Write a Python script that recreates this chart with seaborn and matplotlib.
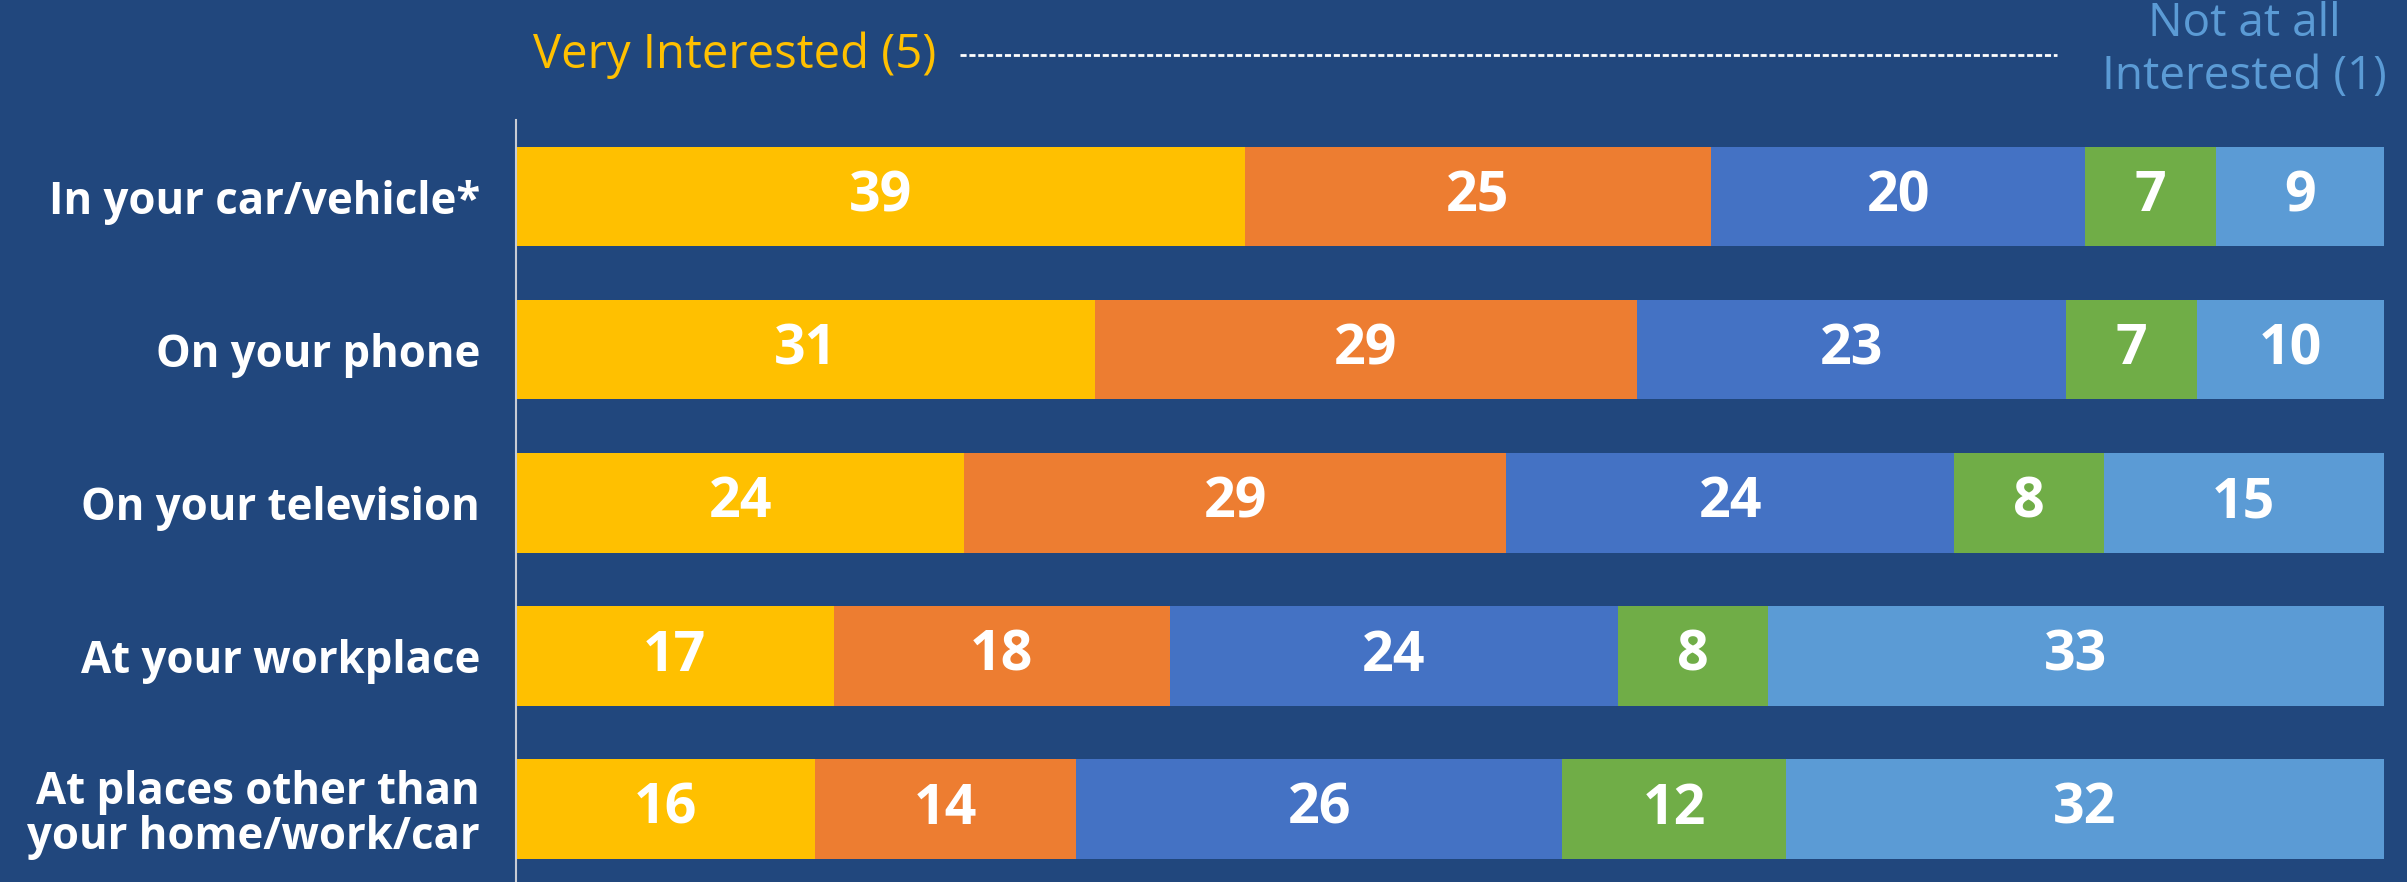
import numpy as np
import pandas as pd
import seaborn as sns
import matplotlib.pyplot as plt
from matplotlib.lines import Line2D

categories = ['In your car/vehicle*', 'On your phone', 'On your television',
              'At your workplace', 'At places other than\nyour home/work/car']
levels = ['5', '4', '3', '2', '1']
very = [39, 31, 24, 17, 16]
four = [25, 29, 29, 18, 14]
three = [20, 23, 24, 24, 26]
two = [7, 7, 8, 8, 12]
notatall = [9, 10, 15, 33, 32]

colors = ['#FFC000', '#ED7D31', '#4472C4', '#70AD47', '#5B9BD5']
bg = '#21477D'

sns.set_theme(style='white')
plt.rcParams['font.family'] = ['Open Sans', 'DejaVu Sans']

df = pd.DataFrame({'cat': categories, '5': very, '4': four, '3': three,
                   '2': two, '1': notatall})
cum = df[levels].cumsum(axis=1)

fig = plt.figure(figsize=(24.07, 8.82), dpi=100, facecolor=bg)
ax = fig.add_axes([0.2144, 0.0, 0.776, 0.864])
ax.set_facecolor(bg)

# stacked bars: draw cumulative totals from the widest down
for lev, col in reversed(list(zip(levels, colors))):
    sns.barplot(x=cum[lev], y=df['cat'], color=col, width=0.65,
                orient='h', ax=ax, saturation=1, linewidth=0)

# value labels in the middle of each segment
for i in range(len(categories)):
    for lev in levels:
        v = df.loc[i, lev]
        ax.text(cum.loc[i, lev] - v / 2, i, str(v), ha='center', va='center',
                color='white', fontsize=40, fontweight='bold')

ax.set_xlim(0, 100)
ax.set_ylim(4.475, -0.5)
ax.set_xlabel('')
ax.set_ylabel('')
ax.set_xticks([])
ax.tick_params(axis='y', length=0, pad=26)
plt.setp(ax.get_yticklabels(), color='white', fontsize=31.5, fontweight='bold',
         linespacing=1.0)
for s in ['top', 'right', 'bottom']:
    ax.spines[s].set_visible(False)
ax.spines['left'].set_color('#c8ccd4')
ax.spines['left'].set_linewidth(1.5)

# header scale
fig.text(533 / 2407, 1 - 55 / 882, 'Very Interested (5)', color='#FFC000',
         fontsize=34, ha='left', va='center')
fig.add_artist(Line2D([960 / 2407, 2057 / 2407], [1 - 55 / 882, 1 - 55 / 882],
                      color='white', lw=2, linestyle=(0, (2.2, 1.0))))
fig.text(2244 / 2407, 1 - 50 / 882, 'Not at all\nInterested (1)', color='#5B9BD5',
         fontsize=33, ha='center', va='center', linespacing=1.2)

fig.savefig('out.png', dpi=100, facecolor=bg)
